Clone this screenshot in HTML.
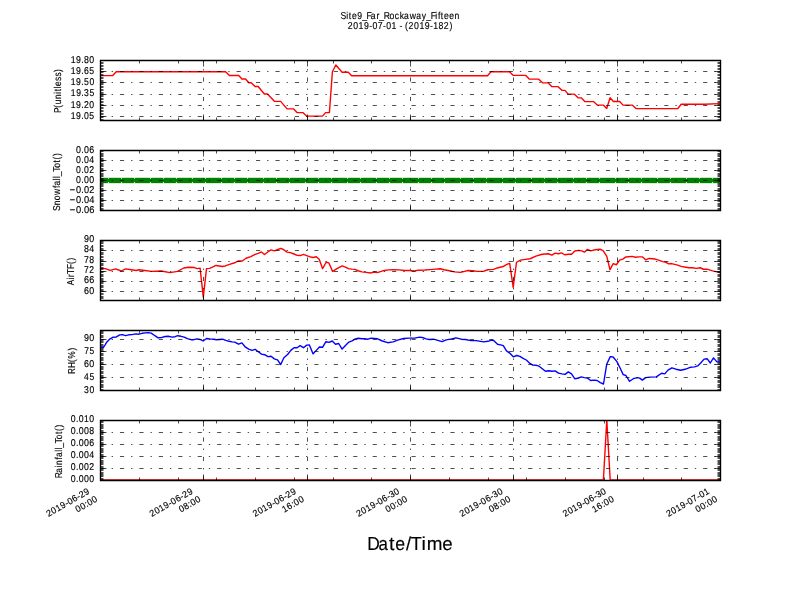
<!DOCTYPE html>
<html><head><meta charset="utf-8"><title>Site9_Far_Rockaway_Fifteen</title>
<style>html,body{margin:0;padding:0;background:#fff;width:800px;height:600px;overflow:hidden}
svg{display:block;will-change:transform}
text{font-family:"Liberation Sans",sans-serif;fill:#000;text-rendering:geometricPrecision;stroke:#000;stroke-width:0.15px}</style></head>
<body>
<svg width="800" height="600" viewBox="0 0 800 600">
<defs><clipPath id="c0"><rect x="100" y="60" width="620" height="60"/></clipPath><clipPath id="c1"><rect x="100" y="150" width="620" height="60"/></clipPath><clipPath id="c2"><rect x="100" y="240" width="620" height="60"/></clipPath><clipPath id="c3"><rect x="100" y="330" width="620" height="60"/></clipPath><clipPath id="c4"><rect x="100" y="420" width="620" height="60"/></clipPath></defs>
<rect width="800" height="600" fill="#fff"/>
<path clip-path="url(#c0)" fill="none" stroke="#ff0000" stroke-width="1.39" stroke-linecap="square" stroke-linejoin="round" d="M100 75.65 L112.5 75.65 L116.25 71.75 L225.6 71.75 L229.4 75.5 L238.75 75.5 L241.9 79 L245.6 79 L248.75 82.75 L251.25 82.75 L255 86.5 L258.1 86.5 L264.4 94 L267.5 94 L274.4 101.35 L280.6 101.35 L287.1 108.85 L293.5 108.85 L297.25 112.65 L303.1 112.65 L306.9 116.15 L322.5 116.15 L325.6 112.65 L329.4 112.65 L332.4 71.75 L335.8 64.95 L342.1 72.25 L348.3 72.25 L351.6 75.75 L487.5 75.75 L491 71.75 L509.4 71.75 L513.1 75.35 L525.6 75.35 L529.4 79.15 L538.75 79.15 L542.5 82.85 L548.1 82.85 L551.9 86.65 L558.1 86.65 L561.9 90.35 L565 90.35 L568.1 94.15 L574.4 94.15 L578.1 97.85 L581.25 97.85 L585 101.65 L593.75 101.65 L597.5 105.15 L603.5 105.15 L606.7 108.55 L610.1 97.75 L613.4 101.55 L619.7 101.55 L623 105.15 L632.5 105.15 L636.25 108.65 L677.9 108.45 L681.2 104.3 L704 104.25 L720 103.65"/>
<path clip-path="url(#c0)" fill="none" stroke="#000" stroke-width="0.69" stroke-dasharray="4.17 6.94 1.39 6.94" d="M100.5 116.5H720.5M100.5 105.5H720.5M100.5 94.5H720.5M100.5 82.5H720.5M100.5 71.5H720.5M100.5 60.5H720.5M100.5 120.5V60.5M203.5 120.5V60.5M307.5 120.5V60.5M410.5 120.5V60.5M513.5 120.5V60.5M617.5 120.5V60.5M720.5 120.5V60.5"/>
<path fill="none" stroke="#000" stroke-width="0.69" d="M100.5 120.5v-6M100.5 60.5v6M203.5 120.5v-6M203.5 60.5v6M307.5 120.5v-6M307.5 60.5v6M410.5 120.5v-6M410.5 60.5v6M513.5 120.5v-6M513.5 60.5v6M617.5 120.5v-6M617.5 60.5v6M720.5 120.5v-6M720.5 60.5v6M139.5 120.5v-3M139.5 60.5v3M178.5 120.5v-3M178.5 60.5v3M216.5 120.5v-3M216.5 60.5v3M255.5 120.5v-3M255.5 60.5v3M294.5 120.5v-3M294.5 60.5v3M333.5 120.5v-3M333.5 60.5v3M371.5 120.5v-3M371.5 60.5v3M449.5 120.5v-3M449.5 60.5v3M488.5 120.5v-3M488.5 60.5v3M526.5 120.5v-3M526.5 60.5v3M565.5 120.5v-3M565.5 60.5v3M604.5 120.5v-3M604.5 60.5v3M643.5 120.5v-3M643.5 60.5v3M681.5 120.5v-3M681.5 60.5v3M100.5 116.5h6M720.5 116.5h-6M100.5 105.5h6M720.5 105.5h-6M100.5 94.5h6M720.5 94.5h-6M100.5 82.5h6M720.5 82.5h-6M100.5 71.5h6M720.5 71.5h-6M100.5 60.5h6M720.5 60.5h-6M100.5 120.5h3M720.5 120.5h-3M100.5 119.5h3M720.5 119.5h-3M100.5 117.5h3M720.5 117.5h-3M100.5 116.5h3M720.5 116.5h-3M100.5 114.5h3M720.5 114.5h-3M100.5 113.5h3M720.5 113.5h-3M100.5 111.5h3M720.5 111.5h-3M100.5 110.5h3M720.5 110.5h-3M100.5 108.5h3M720.5 108.5h-3M100.5 107.5h3M720.5 107.5h-3M100.5 105.5h3M720.5 105.5h-3M100.5 104.5h3M720.5 104.5h-3M100.5 102.5h3M720.5 102.5h-3M100.5 101.5h3M720.5 101.5h-3M100.5 99.5h3M720.5 99.5h-3M100.5 98.5h3M720.5 98.5h-3M100.5 96.5h3M720.5 96.5h-3M100.5 95.5h3M720.5 95.5h-3M100.5 93.5h3M720.5 93.5h-3M100.5 92.5h3M720.5 92.5h-3M100.5 90.5h3M720.5 90.5h-3M100.5 89.5h3M720.5 89.5h-3M100.5 87.5h3M720.5 87.5h-3M100.5 86.5h3M720.5 86.5h-3M100.5 84.5h3M720.5 84.5h-3M100.5 83.5h3M720.5 83.5h-3M100.5 81.5h3M720.5 81.5h-3M100.5 80.5h3M720.5 80.5h-3M100.5 78.5h3M720.5 78.5h-3M100.5 77.5h3M720.5 77.5h-3M100.5 75.5h3M720.5 75.5h-3M100.5 74.5h3M720.5 74.5h-3M100.5 72.5h3M720.5 72.5h-3M100.5 71.5h3M720.5 71.5h-3M100.5 69.5h3M720.5 69.5h-3M100.5 68.5h3M720.5 68.5h-3M100.5 66.5h3M720.5 66.5h-3M100.5 65.5h3M720.5 65.5h-3M100.5 63.5h3M720.5 63.5h-3M100.5 62.5h3M720.5 62.5h-3M100.5 60.5h3M720.5 60.5h-3"/>
<path fill="none" stroke="#000" stroke-width="1.39" stroke-linecap="square" d="M100.5 120.5V60.5M720.5 120.5V60.5M100.5 120.5H720.5M100.5 60.5H720.5"/>
<g clip-path="url(#c1)"><rect x="100" y="177.8" width="620" height="5.35" fill="#008000"/><path fill="#fff" d="M107.6 177.6H109.4L108.5 179.1ZM107.6 183.35H109.4L108.5 181.85ZM120.6 177.6H122.4L121.5 179.1ZM120.6 183.35H122.4L121.5 181.85ZM133.6 177.6H135.4L134.5 179.1ZM133.6 183.35H135.4L134.5 181.85ZM149.6 177.6H151.4L150.5 179.1ZM149.6 183.35H151.4L150.5 181.85ZM162.6 177.6H164.4L163.5 179.1ZM162.6 183.35H164.4L163.5 181.85ZM175.6 177.6H177.4L176.5 179.1ZM175.6 183.35H177.4L176.5 181.85ZM191.6 177.6H193.4L192.5 179.1ZM191.6 183.35H193.4L192.5 181.85ZM204.6 177.6H206.4L205.5 179.1ZM204.6 183.35H206.4L205.5 181.85ZM220.6 177.6H222.4L221.5 179.1ZM220.6 183.35H222.4L221.5 181.85ZM233.6 177.6H235.4L234.5 179.1ZM233.6 183.35H235.4L234.5 181.85ZM246.6 177.6H248.4L247.5 179.1ZM246.6 183.35H248.4L247.5 181.85ZM262.6 177.6H264.4L263.5 179.1ZM262.6 183.35H264.4L263.5 181.85ZM275.6 177.6H277.4L276.5 179.1ZM275.6 183.35H277.4L276.5 181.85ZM288.6 177.6H290.4L289.5 179.1ZM288.6 183.35H290.4L289.5 181.85ZM304.6 177.6H306.4L305.5 179.1ZM304.6 183.35H306.4L305.5 181.85ZM317.6 177.6H319.4L318.5 179.1ZM317.6 183.35H319.4L318.5 181.85ZM330.6 177.6H332.4L331.5 179.1ZM330.6 183.35H332.4L331.5 181.85ZM346.6 177.6H348.4L347.5 179.1ZM346.6 183.35H348.4L347.5 181.85ZM359.6 177.6H361.4L360.5 179.1ZM359.6 183.35H361.4L360.5 181.85ZM375.6 177.6H377.4L376.5 179.1ZM375.6 183.35H377.4L376.5 181.85ZM388.6 177.6H390.4L389.5 179.1ZM388.6 183.35H390.4L389.5 181.85ZM401.6 177.6H403.4L402.5 179.1ZM401.6 183.35H403.4L402.5 181.85ZM417.6 177.6H419.4L418.5 179.1ZM417.6 183.35H419.4L418.5 181.85ZM430.6 177.6H432.4L431.5 179.1ZM430.6 183.35H432.4L431.5 181.85ZM443.6 177.6H445.4L444.5 179.1ZM443.6 183.35H445.4L444.5 181.85ZM459.6 177.6H461.4L460.5 179.1ZM459.6 183.35H461.4L460.5 181.85ZM472.6 177.6H474.4L473.5 179.1ZM472.6 183.35H474.4L473.5 181.85ZM485.6 177.6H487.4L486.5 179.1ZM485.6 183.35H487.4L486.5 181.85ZM501.6 177.6H503.4L502.5 179.1ZM501.6 183.35H503.4L502.5 181.85ZM514.6 177.6H516.4L515.5 179.1ZM514.6 183.35H516.4L515.5 181.85ZM530.6 177.6H532.4L531.5 179.1ZM530.6 183.35H532.4L531.5 181.85ZM543.6 177.6H545.4L544.5 179.1ZM543.6 183.35H545.4L544.5 181.85ZM556.6 177.6H558.4L557.5 179.1ZM556.6 183.35H558.4L557.5 181.85ZM572.6 177.6H574.4L573.5 179.1ZM572.6 183.35H574.4L573.5 181.85ZM585.6 177.6H587.4L586.5 179.1ZM585.6 183.35H587.4L586.5 181.85ZM598.6 177.6H600.4L599.5 179.1ZM598.6 183.35H600.4L599.5 181.85ZM614.6 177.6H616.4L615.5 179.1ZM614.6 183.35H616.4L615.5 181.85ZM627.6 177.6H629.4L628.5 179.1ZM627.6 183.35H629.4L628.5 181.85ZM640.6 177.6H642.4L641.5 179.1ZM640.6 183.35H642.4L641.5 181.85ZM656.6 177.6H658.4L657.5 179.1ZM656.6 183.35H658.4L657.5 181.85ZM669.6 177.6H671.4L670.5 179.1ZM669.6 183.35H671.4L670.5 181.85ZM685.6 177.6H687.4L686.5 179.1ZM685.6 183.35H687.4L686.5 181.85ZM698.6 177.6H700.4L699.5 179.1ZM698.6 183.35H700.4L699.5 181.85ZM711.6 177.6H713.4L712.5 179.1ZM711.6 183.35H713.4L712.5 181.85Z"/></g>
<path clip-path="url(#c1)" fill="none" stroke="#000" stroke-width="0.69" stroke-dasharray="4.17 6.94 1.39 6.94" d="M100.5 210.5H720.5M100.5 200.5H720.5M100.5 190.5H720.5M100.5 180.5H720.5M100.5 170.5H720.5M100.5 160.5H720.5M100.5 150.5H720.5M100.5 210.5V150.5M203.5 210.5V150.5M307.5 210.5V150.5M410.5 210.5V150.5M513.5 210.5V150.5M617.5 210.5V150.5M720.5 210.5V150.5"/>
<path fill="none" stroke="#000" stroke-width="0.69" d="M100.5 210.5v-6M100.5 150.5v6M203.5 210.5v-6M203.5 150.5v6M307.5 210.5v-6M307.5 150.5v6M410.5 210.5v-6M410.5 150.5v6M513.5 210.5v-6M513.5 150.5v6M617.5 210.5v-6M617.5 150.5v6M720.5 210.5v-6M720.5 150.5v6M139.5 210.5v-3M139.5 150.5v3M178.5 210.5v-3M178.5 150.5v3M216.5 210.5v-3M216.5 150.5v3M255.5 210.5v-3M255.5 150.5v3M294.5 210.5v-3M294.5 150.5v3M333.5 210.5v-3M333.5 150.5v3M371.5 210.5v-3M371.5 150.5v3M449.5 210.5v-3M449.5 150.5v3M488.5 210.5v-3M488.5 150.5v3M526.5 210.5v-3M526.5 150.5v3M565.5 210.5v-3M565.5 150.5v3M604.5 210.5v-3M604.5 150.5v3M643.5 210.5v-3M643.5 150.5v3M681.5 210.5v-3M681.5 150.5v3M100.5 210.5h6M720.5 210.5h-6M100.5 200.5h6M720.5 200.5h-6M100.5 190.5h6M720.5 190.5h-6M100.5 180.5h6M720.5 180.5h-6M100.5 170.5h6M720.5 170.5h-6M100.5 160.5h6M720.5 160.5h-6M100.5 150.5h6M720.5 150.5h-6M100.5 210.5h3M720.5 210.5h-3M100.5 209.5h3M720.5 209.5h-3M100.5 208.5h3M720.5 208.5h-3M100.5 206.5h3M720.5 206.5h-3M100.5 205.5h3M720.5 205.5h-3M100.5 204.5h3M720.5 204.5h-3M100.5 203.5h3M720.5 203.5h-3M100.5 201.5h3M720.5 201.5h-3M100.5 200.5h3M720.5 200.5h-3M100.5 199.5h3M720.5 199.5h-3M100.5 198.5h3M720.5 198.5h-3M100.5 196.5h3M720.5 196.5h-3M100.5 195.5h3M720.5 195.5h-3M100.5 194.5h3M720.5 194.5h-3M100.5 193.5h3M720.5 193.5h-3M100.5 191.5h3M720.5 191.5h-3M100.5 190.5h3M720.5 190.5h-3M100.5 189.5h3M720.5 189.5h-3M100.5 188.5h3M720.5 188.5h-3M100.5 186.5h3M720.5 186.5h-3M100.5 185.5h3M720.5 185.5h-3M100.5 184.5h3M720.5 184.5h-3M100.5 183.5h3M720.5 183.5h-3M100.5 181.5h3M720.5 181.5h-3M100.5 180.5h3M720.5 180.5h-3M100.5 179.5h3M720.5 179.5h-3M100.5 178.5h3M720.5 178.5h-3M100.5 176.5h3M720.5 176.5h-3M100.5 175.5h3M720.5 175.5h-3M100.5 174.5h3M720.5 174.5h-3M100.5 173.5h3M720.5 173.5h-3M100.5 171.5h3M720.5 171.5h-3M100.5 170.5h3M720.5 170.5h-3M100.5 169.5h3M720.5 169.5h-3M100.5 168.5h3M720.5 168.5h-3M100.5 166.5h3M720.5 166.5h-3M100.5 165.5h3M720.5 165.5h-3M100.5 164.5h3M720.5 164.5h-3M100.5 163.5h3M720.5 163.5h-3M100.5 161.5h3M720.5 161.5h-3M100.5 160.5h3M720.5 160.5h-3M100.5 159.5h3M720.5 159.5h-3M100.5 158.5h3M720.5 158.5h-3M100.5 156.5h3M720.5 156.5h-3M100.5 155.5h3M720.5 155.5h-3M100.5 154.5h3M720.5 154.5h-3M100.5 153.5h3M720.5 153.5h-3M100.5 151.5h3M720.5 151.5h-3M100.5 150.5h3M720.5 150.5h-3"/>
<path fill="none" stroke="#000" stroke-width="1.39" stroke-linecap="square" d="M100.5 210.5V150.5M720.5 210.5V150.5M100.5 210.5H720.5M100.5 150.5H720.5"/>
<path clip-path="url(#c2)" fill="none" stroke="#ff0000" stroke-width="1.39" stroke-linecap="square" stroke-linejoin="round" d="M100 268.35 L105.3 268.65 L110.2 270.45 L115.6 268.85 L121.25 271 L125.6 268.85 L131.25 269.75 L136.25 270.5 L138.75 269.75 L145 270.5 L151.25 271.35 L161.25 271 L170 272.65 L177.5 271.35 L183.75 268 L188.75 267.25 L194.3 267.55 L197.5 268.65 L200.1 268.15 L203.3 297.05 L206.5 268.65 L209.7 268.35 L216.1 265.45 L222.5 266.55 L225.2 265.95 L229.5 264.35 L234.8 262.75 L238.5 260.85 L242.3 260.95 L246 258.25 L250.8 256.55 L255.1 254.35 L258.2 253.35 L261.4 251.95 L264.6 254.45 L267.8 251.95 L271 249.95 L274.2 250.85 L277.4 249.75 L280.8 248.35 L283.8 249.75 L287 252.15 L290.2 252.65 L293.4 253.75 L297.1 255.35 L300.3 255.55 L303.5 254.45 L307.3 255.85 L310.5 256.95 L313.1 257.45 L316.3 256.75 L319.2 259.25 L322.6 268.65 L326.2 262.25 L328.9 262.95 L332.6 271.35 L337.4 268.35 L342.2 265.95 L345.4 267.05 L348.6 268.65 L351.8 269.15 L355 269.35 L358.2 270.75 L361.9 271.85 L366.2 272.35 L371 272.95 L374.2 272.15 L377.4 272.55 L381.2 271.45 L384.3 270.45 L388.5 269.85 L393.9 269.65 L399.2 269.85 L404.5 270.45 L409.9 270.45 L414.1 270.85 L418.4 270.25 L424.8 270.05 L430.1 269.65 L435.5 269.15 L440.3 268.75 L444 269.75 L449.3 270.75 L454.6 271.85 L460.5 272.35 L463.7 271.55 L467.9 270.55 L472.7 270.75 L477 271.35 L483.4 271.35 L487.7 269.75 L493.5 269.35 L497.3 267.95 L503.1 266.55 L506.8 264.35 L509.7 263.35 L513.2 287.35 L516.5 262.25 L520.5 260.15 L525.3 259.35 L530.1 258.75 L535.9 256.15 L542.3 254.25 L548.2 253.75 L551.9 255.15 L555.1 253.15 L558.3 253.75 L561.5 252.95 L564.7 254.75 L568.5 254.25 L571.6 254.25 L574.8 251.05 L578.5 250.35 L581.7 250.85 L584.4 252.15 L587.3 249.45 L590.8 250.85 L595.1 249.75 L599.9 249.25 L603.1 250.55 L606.8 256.35 L610 269.75 L613.2 263.65 L616.4 264.75 L619.6 260.15 L622.8 259.05 L626 256.95 L631.9 256.35 L635.6 257.25 L638.4 256.85 L642.3 256.85 L645.7 259.85 L649.1 258.45 L655.2 259.05 L658.6 260.15 L662.6 261.65 L665.4 262.05 L668.7 263.85 L671.6 263.55 L677.7 265.05 L681.1 266.35 L684.5 267.05 L689 267.75 L692.4 267.75 L696.3 268.35 L700.2 267.75 L703.4 269.25 L707 269.15 L712.6 270.85 L720 272.65"/>
<path clip-path="url(#c2)" fill="none" stroke="#000" stroke-width="0.69" stroke-dasharray="4.17 6.94 1.39 6.94" d="M100.5 291.5H720.5M100.5 281.5H720.5M100.5 271.5H720.5M100.5 261.5H720.5M100.5 250.5H720.5M100.5 240.5H720.5M100.5 300.5V240.5M203.5 300.5V240.5M307.5 300.5V240.5M410.5 300.5V240.5M513.5 300.5V240.5M617.5 300.5V240.5M720.5 300.5V240.5"/>
<path fill="none" stroke="#000" stroke-width="0.69" d="M100.5 300.5v-6M100.5 240.5v6M203.5 300.5v-6M203.5 240.5v6M307.5 300.5v-6M307.5 240.5v6M410.5 300.5v-6M410.5 240.5v6M513.5 300.5v-6M513.5 240.5v6M617.5 300.5v-6M617.5 240.5v6M720.5 300.5v-6M720.5 240.5v6M139.5 300.5v-3M139.5 240.5v3M178.5 300.5v-3M178.5 240.5v3M216.5 300.5v-3M216.5 240.5v3M255.5 300.5v-3M255.5 240.5v3M294.5 300.5v-3M294.5 240.5v3M333.5 300.5v-3M333.5 240.5v3M371.5 300.5v-3M371.5 240.5v3M449.5 300.5v-3M449.5 240.5v3M488.5 300.5v-3M488.5 240.5v3M526.5 300.5v-3M526.5 240.5v3M565.5 300.5v-3M565.5 240.5v3M604.5 300.5v-3M604.5 240.5v3M643.5 300.5v-3M643.5 240.5v3M681.5 300.5v-3M681.5 240.5v3M100.5 291.5h6M720.5 291.5h-6M100.5 281.5h6M720.5 281.5h-6M100.5 271.5h6M720.5 271.5h-6M100.5 261.5h6M720.5 261.5h-6M100.5 250.5h6M720.5 250.5h-6M100.5 240.5h6M720.5 240.5h-6M100.5 300.5h3M720.5 300.5h-3M100.5 298.5h3M720.5 298.5h-3M100.5 297.5h3M720.5 297.5h-3M100.5 296.5h3M720.5 296.5h-3M100.5 294.5h3M720.5 294.5h-3M100.5 293.5h3M720.5 293.5h-3M100.5 291.5h3M720.5 291.5h-3M100.5 290.5h3M720.5 290.5h-3M100.5 289.5h3M720.5 289.5h-3M100.5 287.5h3M720.5 287.5h-3M100.5 286.5h3M720.5 286.5h-3M100.5 285.5h3M720.5 285.5h-3M100.5 283.5h3M720.5 283.5h-3M100.5 282.5h3M720.5 282.5h-3M100.5 280.5h3M720.5 280.5h-3M100.5 279.5h3M720.5 279.5h-3M100.5 278.5h3M720.5 278.5h-3M100.5 276.5h3M720.5 276.5h-3M100.5 275.5h3M720.5 275.5h-3M100.5 274.5h3M720.5 274.5h-3M100.5 272.5h3M720.5 272.5h-3M100.5 271.5h3M720.5 271.5h-3M100.5 269.5h3M720.5 269.5h-3M100.5 268.5h3M720.5 268.5h-3M100.5 267.5h3M720.5 267.5h-3M100.5 265.5h3M720.5 265.5h-3M100.5 264.5h3M720.5 264.5h-3M100.5 263.5h3M720.5 263.5h-3M100.5 261.5h3M720.5 261.5h-3M100.5 260.5h3M720.5 260.5h-3M100.5 259.5h3M720.5 259.5h-3M100.5 257.5h3M720.5 257.5h-3M100.5 256.5h3M720.5 256.5h-3M100.5 254.5h3M720.5 254.5h-3M100.5 253.5h3M720.5 253.5h-3M100.5 252.5h3M720.5 252.5h-3M100.5 250.5h3M720.5 250.5h-3M100.5 249.5h3M720.5 249.5h-3M100.5 248.5h3M720.5 248.5h-3M100.5 246.5h3M720.5 246.5h-3M100.5 245.5h3M720.5 245.5h-3M100.5 243.5h3M720.5 243.5h-3M100.5 242.5h3M720.5 242.5h-3M100.5 241.5h3M720.5 241.5h-3"/>
<path fill="none" stroke="#000" stroke-width="1.39" stroke-linecap="square" d="M100.5 300.5V240.5M720.5 300.5V240.5M100.5 300.5H720.5M100.5 240.5H720.5"/>
<path clip-path="url(#c3)" fill="none" stroke="#0000ff" stroke-width="1.39" stroke-linecap="square" stroke-linejoin="round" d="M100 347.6 L103.3 347.6 L105.3 344.6 L106.4 342.6 L109.6 339.2 L112.8 337.3 L116 337.1 L119.7 334.9 L122.4 334.6 L125.6 335.7 L128.8 334.8 L132 334.6 L135.7 333.9 L138.9 334.2 L142.1 333.3 L145.3 332.9 L148.5 332.6 L151.2 333.1 L154.9 335.7 L158.1 337.8 L161.3 337.6 L165.1 336.5 L168.3 336.3 L171.9 337.1 L175.1 336.7 L177.8 335.7 L181 336.3 L184.2 337.1 L187.4 338.7 L191.1 339.7 L193.8 339.7 L197 338.9 L200.2 339.5 L203.1 341 L206.6 338.5 L209.8 338.9 L213.5 339.2 L216.7 339.7 L219.4 339.5 L222.6 339.2 L225.8 340.3 L229 341.3 L232.2 341.9 L234.8 342.1 L238.5 344.2 L241.9 342.9 L245.5 347.2 L248.7 349.1 L251.9 350.4 L255.1 349.3 L258.3 351.7 L261.5 354.1 L264.7 354.7 L267.9 356.6 L271.1 356.3 L274.3 358.9 L277.5 359.8 L280.7 364.5 L283.9 357.7 L287.6 354.5 L290.8 350.4 L294 347.7 L297.1 347.7 L300.1 345.6 L303.5 347.7 L306.7 345.1 L309.4 344.9 L313.1 353.9 L316.3 350.4 L319.5 347 L322.7 347.2 L325.9 341.7 L329.1 342.4 L332.3 341 L335.5 344.2 L338.7 343.5 L342.1 349.1 L345.7 345.3 L348.9 342.1 L352.1 340.8 L355.3 338.9 L358.5 338.3 L361.7 338.7 L364.3 338.7 L368 339.2 L371.2 338.1 L377.1 338.7 L382.4 341 L387.7 342.7 L393.1 341.9 L398.4 339.9 L403.7 338.5 L409.1 338.1 L414.4 338.1 L419.7 337.1 L423.5 337.8 L426.1 338.9 L429.3 339.5 L433.5 339.2 L437.8 340.3 L442.1 341.7 L446.3 339.9 L451.7 338.9 L455.9 337.8 L461.3 339.2 L465.5 339.5 L470.9 340.6 L476.2 340.6 L483.7 341.9 L487.9 341.3 L491.7 340.2 L493.7 340.6 L497.5 344.2 L500.7 344.9 L503.3 345.6 L506.5 350.9 L509.7 353.1 L513.3 356.8 L516.7 355.5 L519.9 356.3 L523.1 358.4 L526.3 360 L530 363.4 L532.7 365.1 L536.4 365.3 L539.1 366.2 L542.3 368.7 L545.5 371.2 L548.7 370.7 L551.9 371.2 L555.1 370.9 L558.5 373.1 L561.9 373.9 L565.1 374.4 L568.3 371.9 L571.5 373.9 L574.7 378.7 L577.9 378.3 L581.1 376.9 L584.3 377.6 L587.5 378.1 L590.7 380.5 L593.9 380.1 L597.1 380.5 L600.3 382.6 L603.5 384 L606.7 364.3 L610.3 356.6 L613.1 357 L616.9 361.6 L620.1 368 L623.2 374.6 L625.9 375.5 L629.6 381.3 L633.3 378.7 L637.6 377.6 L639.7 378.1 L642.4 380.1 L645.6 377.6 L649.9 377.1 L656.3 376.9 L661.6 373.3 L664.8 373.9 L668 370.1 L671.9 367.8 L676 369.2 L680.7 370.3 L685 369.3 L690.2 367.3 L694.5 366.9 L697.7 365.9 L700.9 362.7 L704.1 359.1 L707.1 358.7 L710.3 363 L713.5 357.9 L716.9 361.9 L720 361.6"/>
<path clip-path="url(#c3)" fill="none" stroke="#000" stroke-width="0.69" stroke-dasharray="4.17 6.94 1.39 6.94" d="M100.5 390.5H720.5M100.5 377.5H720.5M100.5 364.5H720.5M100.5 351.5H720.5M100.5 339.5H720.5M100.5 390.5V330.5M203.5 390.5V330.5M307.5 390.5V330.5M410.5 390.5V330.5M513.5 390.5V330.5M617.5 390.5V330.5M720.5 390.5V330.5"/>
<path fill="none" stroke="#000" stroke-width="0.69" d="M100.5 390.5v-6M100.5 330.5v6M203.5 390.5v-6M203.5 330.5v6M307.5 390.5v-6M307.5 330.5v6M410.5 390.5v-6M410.5 330.5v6M513.5 390.5v-6M513.5 330.5v6M617.5 390.5v-6M617.5 330.5v6M720.5 390.5v-6M720.5 330.5v6M139.5 390.5v-3M139.5 330.5v3M178.5 390.5v-3M178.5 330.5v3M216.5 390.5v-3M216.5 330.5v3M255.5 390.5v-3M255.5 330.5v3M294.5 390.5v-3M294.5 330.5v3M333.5 390.5v-3M333.5 330.5v3M371.5 390.5v-3M371.5 330.5v3M449.5 390.5v-3M449.5 330.5v3M488.5 390.5v-3M488.5 330.5v3M526.5 390.5v-3M526.5 330.5v3M565.5 390.5v-3M565.5 330.5v3M604.5 390.5v-3M604.5 330.5v3M643.5 390.5v-3M643.5 330.5v3M681.5 390.5v-3M681.5 330.5v3M100.5 390.5h6M720.5 390.5h-6M100.5 377.5h6M720.5 377.5h-6M100.5 364.5h6M720.5 364.5h-6M100.5 351.5h6M720.5 351.5h-6M100.5 339.5h6M720.5 339.5h-6M100.5 390.5h3M720.5 390.5h-3M100.5 389.5h3M720.5 389.5h-3M100.5 387.5h3M720.5 387.5h-3M100.5 386.5h3M720.5 386.5h-3M100.5 385.5h3M720.5 385.5h-3M100.5 384.5h3M720.5 384.5h-3M100.5 382.5h3M720.5 382.5h-3M100.5 381.5h3M720.5 381.5h-3M100.5 380.5h3M720.5 380.5h-3M100.5 378.5h3M720.5 378.5h-3M100.5 377.5h3M720.5 377.5h-3M100.5 376.5h3M720.5 376.5h-3M100.5 375.5h3M720.5 375.5h-3M100.5 373.5h3M720.5 373.5h-3M100.5 372.5h3M720.5 372.5h-3M100.5 371.5h3M720.5 371.5h-3M100.5 369.5h3M720.5 369.5h-3M100.5 368.5h3M720.5 368.5h-3M100.5 367.5h3M720.5 367.5h-3M100.5 366.5h3M720.5 366.5h-3M100.5 364.5h3M720.5 364.5h-3M100.5 363.5h3M720.5 363.5h-3M100.5 362.5h3M720.5 362.5h-3M100.5 360.5h3M720.5 360.5h-3M100.5 359.5h3M720.5 359.5h-3M100.5 358.5h3M720.5 358.5h-3M100.5 357.5h3M720.5 357.5h-3M100.5 355.5h3M720.5 355.5h-3M100.5 354.5h3M720.5 354.5h-3M100.5 353.5h3M720.5 353.5h-3M100.5 351.5h3M720.5 351.5h-3M100.5 350.5h3M720.5 350.5h-3M100.5 349.5h3M720.5 349.5h-3M100.5 348.5h3M720.5 348.5h-3M100.5 346.5h3M720.5 346.5h-3M100.5 345.5h3M720.5 345.5h-3M100.5 344.5h3M720.5 344.5h-3M100.5 342.5h3M720.5 342.5h-3M100.5 341.5h3M720.5 341.5h-3M100.5 340.5h3M720.5 340.5h-3M100.5 339.5h3M720.5 339.5h-3M100.5 337.5h3M720.5 337.5h-3M100.5 336.5h3M720.5 336.5h-3M100.5 335.5h3M720.5 335.5h-3M100.5 333.5h3M720.5 333.5h-3M100.5 332.5h3M720.5 332.5h-3M100.5 331.5h3M720.5 331.5h-3"/>
<path fill="none" stroke="#000" stroke-width="1.39" stroke-linecap="square" d="M100.5 390.5V330.5M720.5 390.5V330.5M100.5 390.5H720.5M100.5 330.5H720.5"/>
<path clip-path="url(#c4)" fill="none" stroke="#ff0000" stroke-width="1.39" stroke-linecap="square" stroke-linejoin="round" d="M100 480 L603.4 480 L606.8 420 L610.2 480 L720 480"/>
<path clip-path="url(#c4)" fill="none" stroke="#000" stroke-width="0.69" stroke-dasharray="4.17 6.94 1.39 6.94" d="M100.5 480.5H720.5M100.5 468.5H720.5M100.5 456.5H720.5M100.5 444.5H720.5M100.5 432.5H720.5M100.5 420.5H720.5M100.5 480.5V420.5M203.5 480.5V420.5M307.5 480.5V420.5M410.5 480.5V420.5M513.5 480.5V420.5M617.5 480.5V420.5M720.5 480.5V420.5"/>
<path fill="none" stroke="#000" stroke-width="0.69" d="M100.5 480.5v-6M100.5 420.5v6M203.5 480.5v-6M203.5 420.5v6M307.5 480.5v-6M307.5 420.5v6M410.5 480.5v-6M410.5 420.5v6M513.5 480.5v-6M513.5 420.5v6M617.5 480.5v-6M617.5 420.5v6M720.5 480.5v-6M720.5 420.5v6M139.5 480.5v-3M139.5 420.5v3M178.5 480.5v-3M178.5 420.5v3M216.5 480.5v-3M216.5 420.5v3M255.5 480.5v-3M255.5 420.5v3M294.5 480.5v-3M294.5 420.5v3M333.5 480.5v-3M333.5 420.5v3M371.5 480.5v-3M371.5 420.5v3M449.5 480.5v-3M449.5 420.5v3M488.5 480.5v-3M488.5 420.5v3M526.5 480.5v-3M526.5 420.5v3M565.5 480.5v-3M565.5 420.5v3M604.5 480.5v-3M604.5 420.5v3M643.5 480.5v-3M643.5 420.5v3M681.5 480.5v-3M681.5 420.5v3M100.5 480.5h6M720.5 480.5h-6M100.5 468.5h6M720.5 468.5h-6M100.5 456.5h6M720.5 456.5h-6M100.5 444.5h6M720.5 444.5h-6M100.5 432.5h6M720.5 432.5h-6M100.5 420.5h6M720.5 420.5h-6M100.5 480.5h3M720.5 480.5h-3M100.5 479.5h3M720.5 479.5h-3M100.5 478.5h3M720.5 478.5h-3M100.5 476.5h3M720.5 476.5h-3M100.5 475.5h3M720.5 475.5h-3M100.5 474.5h3M720.5 474.5h-3M100.5 473.5h3M720.5 473.5h-3M100.5 472.5h3M720.5 472.5h-3M100.5 470.5h3M720.5 470.5h-3M100.5 469.5h3M720.5 469.5h-3M100.5 468.5h3M720.5 468.5h-3M100.5 467.5h3M720.5 467.5h-3M100.5 466.5h3M720.5 466.5h-3M100.5 464.5h3M720.5 464.5h-3M100.5 463.5h3M720.5 463.5h-3M100.5 462.5h3M720.5 462.5h-3M100.5 461.5h3M720.5 461.5h-3M100.5 460.5h3M720.5 460.5h-3M100.5 458.5h3M720.5 458.5h-3M100.5 457.5h3M720.5 457.5h-3M100.5 456.5h3M720.5 456.5h-3M100.5 455.5h3M720.5 455.5h-3M100.5 454.5h3M720.5 454.5h-3M100.5 452.5h3M720.5 452.5h-3M100.5 451.5h3M720.5 451.5h-3M100.5 450.5h3M720.5 450.5h-3M100.5 449.5h3M720.5 449.5h-3M100.5 448.5h3M720.5 448.5h-3M100.5 446.5h3M720.5 446.5h-3M100.5 445.5h3M720.5 445.5h-3M100.5 444.5h3M720.5 444.5h-3M100.5 443.5h3M720.5 443.5h-3M100.5 442.5h3M720.5 442.5h-3M100.5 440.5h3M720.5 440.5h-3M100.5 439.5h3M720.5 439.5h-3M100.5 438.5h3M720.5 438.5h-3M100.5 437.5h3M720.5 437.5h-3M100.5 436.5h3M720.5 436.5h-3M100.5 434.5h3M720.5 434.5h-3M100.5 433.5h3M720.5 433.5h-3M100.5 432.5h3M720.5 432.5h-3M100.5 431.5h3M720.5 431.5h-3M100.5 430.5h3M720.5 430.5h-3M100.5 428.5h3M720.5 428.5h-3M100.5 427.5h3M720.5 427.5h-3M100.5 426.5h3M720.5 426.5h-3M100.5 425.5h3M720.5 425.5h-3M100.5 424.5h3M720.5 424.5h-3M100.5 422.5h3M720.5 422.5h-3M100.5 421.5h3M720.5 421.5h-3M100.5 420.5h3M720.5 420.5h-3"/>
<path fill="none" stroke="#000" stroke-width="1.39" stroke-linecap="square" d="M100.5 480.5V420.5M720.5 480.5V420.5M100.5 480.5H720.5M100.5 420.5H720.5"/>
<g font-family="Liberation Sans, sans-serif">
<text transform="translate(94.44 118.85) scale(0.8744 1)" x="-27.06 -20.97 -15.02 -11.85 -5.82" y="0" font-size="9.9">19.05</text>
<text transform="translate(94.44 107.6) scale(0.8790 1)" x="-26.93 -20.88 -14.95 -11.93 -5.77" y="0" font-size="9.9">19.20</text>
<text transform="translate(94.44 96.35) scale(0.8657 1)" x="-27.3 -21.16 -15.16 -11.93 -5.85" y="0" font-size="9.9">19.35</text>
<text transform="translate(94.44 85.1) scale(0.8744 1)" x="-27.06 -20.97 -15.02 -11.89 -5.79" y="0" font-size="9.9">19.50</text>
<text transform="translate(94.44 73.85) scale(0.8817 1)" x="-26.86 -20.82 -14.91 -11.77 -5.8" y="0" font-size="9.9">19.65</text>
<text transform="translate(94.44 62.6) scale(0.8889 1)" x="-26.66 -20.68 -14.8 -11.7 -5.74" y="0" font-size="9.9">19.80</text>
<text transform="translate(61 91) rotate(-90) scale(0.8365 1)" x="-26.34 -20.14 -15.93 -9.57 -3.38 -0.35 3.29 6.09 12.08 17.27 22.82" y="0" font-size="10">P(unitless)</text>
<text transform="translate(94.44 212.6) scale(0.9436 1)" x="-26.26 -19.61 -14.02 -11.18 -5.57" y="0" font-size="9.9">−0.06</text>
<text transform="translate(94.44 202.6) scale(0.9354 1)" x="-26.46 -19.76 -14.13 -11.26 -5.59" y="0" font-size="9.9">−0.04</text>
<text transform="translate(94.44 192.6) scale(0.9292 1)" x="-26.62 -19.87 -14.22 -11.31 -5.73" y="0" font-size="9.9">−0.02</text>
<text transform="translate(94.44 182.6) scale(0.8888 1)" x="-20.65 -14.8 -11.7 -5.74" y="0" font-size="9.9">0.00</text>
<text transform="translate(94.44 172.6) scale(0.8791 1)" x="-20.85 -14.95 -11.8 -5.9" y="0" font-size="9.9">0.02</text>
<text transform="translate(94.44 162.6) scale(0.8888 1)" x="-20.65 -14.8 -11.7 -5.74" y="0" font-size="9.9">0.04</text>
<text transform="translate(94.44 152.6) scale(0.8983 1)" x="-20.46 -14.66 -11.61 -5.71" y="0" font-size="9.9">0.06</text>
<text transform="translate(59.8 182) rotate(-90) scale(0.8431 1)" x="-34.46 -27.67 -21.53 -15.3 -7.17 -4.28 2.15 4.9 7.09 12.29 16.93 23.25 26.61 30.97" y="0" font-size="10">Snowfall_Tot()</text>
<text transform="translate(94.44 293.53) scale(0.9026 1)" x="-11.57 -5.69" y="0" font-size="9.9">60</text>
<text transform="translate(94.44 283.24) scale(0.9184 1)" x="-11.42 -5.64" y="0" font-size="9.9">66</text>
<text transform="translate(94.44 272.96) scale(0.8616 1)" x="-12 -5.96" y="0" font-size="9.9">72</text>
<text transform="translate(94.44 262.67) scale(0.8827 1)" x="-11.78 -5.76" y="0" font-size="9.9">78</text>
<text transform="translate(94.44 252.39) scale(0.8920 1)" x="-11.67 -5.73" y="0" font-size="9.9">84</text>
<text transform="translate(94.44 242.1) scale(0.9017 1)" x="-11.6 -5.7" y="0" font-size="9.9">90</text>
<text transform="translate(74.3 271.5) rotate(-90) scale(0.8258 1)" x="-16.74 -9.65 -6.52 -2.96 3.01 9.03 13.47" y="0" font-size="10">AirTF()</text>
<text transform="translate(94.44 392.6) scale(0.8698 1)" x="-11.89 -5.8" y="0" font-size="9.9">30</text>
<text transform="translate(94.44 379.74) scale(0.8632 1)" x="-11.97 -5.86" y="0" font-size="9.9">45</text>
<text transform="translate(94.44 366.89) scale(0.9026 1)" x="-11.57 -5.69" y="0" font-size="9.9">60</text>
<text transform="translate(94.44 354.03) scale(0.8524 1)" x="-12.1 -5.9" y="0" font-size="9.9">75</text>
<text transform="translate(94.44 341.17) scale(0.9017 1)" x="-11.6 -5.7" y="0" font-size="9.9">90</text>
<text transform="translate(74.5 360.85) rotate(-90) scale(0.8037 1)" x="-16.3 -8.98 -1.36 3.05 13.03" y="0" font-size="10">RH(%)</text>
<text transform="translate(94.44 482.1) scale(0.8884 1)" x="-26.62 -20.77 -17.67 -11.71 -5.74" y="0" font-size="9.9">0.000</text>
<text transform="translate(94.44 470.1) scale(0.8811 1)" x="-26.82 -20.94 -17.8 -11.78 -5.89" y="0" font-size="9.9">0.002</text>
<text transform="translate(94.44 458.1) scale(0.8884 1)" x="-26.62 -20.77 -17.67 -11.71 -5.74" y="0" font-size="9.9">0.004</text>
<text transform="translate(94.44 446.1) scale(0.8956 1)" x="-26.43 -20.62 -17.55 -11.63 -5.71" y="0" font-size="9.9">0.006</text>
<text transform="translate(94.44 434.1) scale(0.8907 1)" x="-26.56 -20.72 -17.64 -11.68 -5.73" y="0" font-size="9.9">0.008</text>
<text transform="translate(94.44 422.1) scale(0.8797 1)" x="-26.86 -20.97 -17.82 -11.85 -5.77" y="0" font-size="9.9">0.010</text>
<text transform="translate(61.8 451.45) rotate(-90) scale(0.8358 1)" x="-32.1 -25.5 -19.02 -16.13 -9.71 -6.79 -0.32 2.45 4.68 9.93 14.6 20.97 24.37 28.76" y="0" font-size="10">Rainfall_Tot()</text>
<text transform="translate(400.1 19) scale(0.8586 1)" x="-69.41 -62.7 -59.68 -56.02 -49.86 -44.16 -39.12 -34.21 -27.44 -24.21 -18.95 -12.24 -6.31 -0.49 4.52 11.16 18.74 25.37 30.54 35.58 41.05 44.03 47.4 51.06 57.17 63.38" y="0" font-size="10">Site9_Far_Rockaway_Fifteen</text>
<text transform="translate(400 29) scale(0.8711 1)" x="-59.98 -53.68 -47.56 -41.37 -35.38 -31.67 -25.51 -19.54 -15.82 -9.7 -3.78 -0.61 2.8 5.86 9.84 16.14 22.27 28.46 34.44 38.11 44.33 50.37 56.85" y="0" font-size="10">2019-07-01 - (2019-182)</text>
<text transform="translate(48.33 517.1) rotate(-30) scale(0.9560 1)" x="0.1 5.76 11.26 16.82 22.22 25.54 31.09 36.46 39.66 45.29" y="0" font-size="9.2">2019-06-29</text>
<text transform="translate(77.4 512.7) rotate(-30) scale(0.9560 1)" x="0.21 5.76 11.28 14.24 19.79" y="0" font-size="9.2">00:00</text>
<text transform="translate(151.66 517.1) rotate(-30) scale(0.9560 1)" x="0.1 5.76 11.26 16.82 22.22 25.54 31.09 36.46 39.66 45.29" y="0" font-size="9.2">2019-06-29</text>
<text transform="translate(180.73 512.7) rotate(-30) scale(0.9585 1)" x="0.21 5.74 11.25 14.2 19.73" y="0" font-size="9.2">08:00</text>
<text transform="translate(255 517.1) rotate(-30) scale(0.9560 1)" x="0.1 5.76 11.26 16.82 22.22 25.54 31.09 36.46 39.66 45.29" y="0" font-size="9.2">2019-06-29</text>
<text transform="translate(284.07 512.7) rotate(-30) scale(0.9545 1)" x="0.17 5.77 11.3 14.27 19.82" y="0" font-size="9.2">16:00</text>
<text transform="translate(358.33 517.1) rotate(-30) scale(0.9521 1)" x="0.11 5.79 11.32 16.9 22.32 25.66 31.23 36.62 39.97 45.52" y="0" font-size="9.2">2019-06-30</text>
<text transform="translate(387.4 512.7) rotate(-30) scale(0.9560 1)" x="0.21 5.76 11.28 14.24 19.79" y="0" font-size="9.2">00:00</text>
<text transform="translate(461.66 517.1) rotate(-30) scale(0.9521 1)" x="0.11 5.79 11.32 16.9 22.32 25.66 31.23 36.62 39.97 45.52" y="0" font-size="9.2">2019-06-30</text>
<text transform="translate(490.73 512.7) rotate(-30) scale(0.9585 1)" x="0.21 5.74 11.25 14.2 19.73" y="0" font-size="9.2">08:00</text>
<text transform="translate(565 517.1) rotate(-30) scale(0.9521 1)" x="0.11 5.79 11.32 16.9 22.32 25.66 31.23 36.62 39.97 45.52" y="0" font-size="9.2">2019-06-30</text>
<text transform="translate(594.07 512.7) rotate(-30) scale(0.9545 1)" x="0.17 5.77 11.3 14.27 19.82" y="0" font-size="9.2">16:00</text>
<text transform="translate(668.33 517.1) rotate(-30) scale(0.9459 1)" x="0.13 5.85 11.41 17.03 22.48 25.84 31.43 36.87 40.23 45.79" y="0" font-size="9.2">2019-07-01</text>
<text transform="translate(697.4 512.7) rotate(-30) scale(0.9560 1)" x="0.21 5.76 11.28 14.24 19.79" y="0" font-size="9.2">00:00</text>
<text transform="translate(367.17 549.9) scale(0.9275 1)" font-size="18.75">D</text>
<text transform="translate(378.42 549.9) scale(0.9000 1)" font-size="18.75">a</text>
<text transform="translate(389.11 549.9) scale(1.0500 1)" font-size="18.75">t</text>
<text transform="translate(395.25 549.9) scale(0.9434 1)" font-size="18.75">e</text>
<text transform="translate(405.9 549.9) scale(0.9982 1)" font-size="18.75">&#47;</text>
<text transform="translate(410.79 549.9) scale(0.9621 1)" font-size="18.75">T</text>
<text transform="translate(421.52 549.9) scale(1.0500 1)" font-size="18.75">i</text>
<text transform="translate(426.65 549.9) scale(1.0047 1)" font-size="18.75">m</text>
<text transform="translate(442.35 549.9) scale(1.0002 1)" font-size="18.75">e</text>
</g>
</svg>
</body></html>
